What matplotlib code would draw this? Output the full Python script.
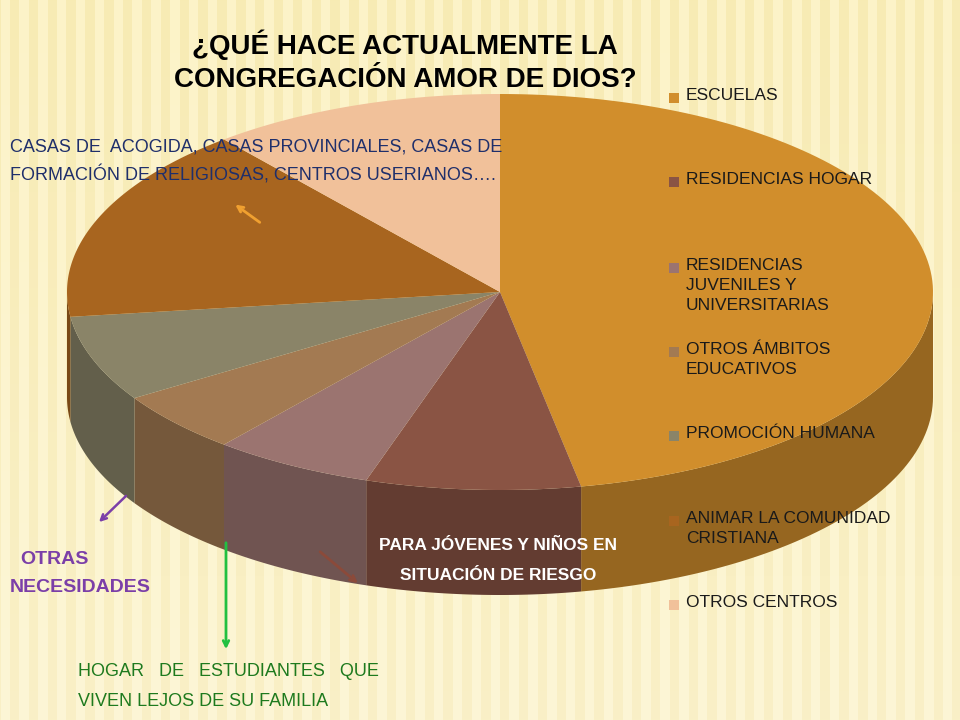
import numpy as np
import matplotlib.pyplot as plt
from matplotlib.patches import Polygon, Rectangle
from matplotlib.colors import to_rgb

plt.rcParams["font.family"] = "Liberation Sans"

categories = ["ESCUELAS", "RESIDENCIAS HOGAR", "RESIDENCIAS\nJUVENILES Y\nUNIVERSITARIAS",
              "OTROS ÁMBITOS\nEDUCATIVOS", "PROMOCIÓN HUMANA", "ANIMAR LA COMUNIDAD\nCRISTIANA",
              "OTROS CENTROS"]
values = [47, 8, 6, 5, 7, 16, 11]
colors = ["#D18E2C", "#8A5444", "#9B7470", "#A37A52", "#8A8468", "#A8651F", "#F1C19A"]

fig = plt.figure(figsize=(9.6, 7.2), dpi=100)
ax = fig.add_axes([0, 0, 1, 1])
ax.set_xlim(0, 960)
ax.set_ylim(720, 0)
ax.axis("off")

# striped background
xs = np.arange(960)
stripe = 0.5 + 0.5 * (np.sin(xs / 3.0) > 0)
base = np.array(to_rgb("#FCF3C8"))
dark = np.array(to_rgb("#F3E3A0"))
row = base[None, :] * stripe[:, None] + dark[None, :] * (1 - stripe[:, None])
yy = np.linspace(0, 1, 720)[:, None, None]
img = row[None, :, :] * (1 - 0.25 * yy) + np.array([1, 1, 1]) * 0.25 * yy
ax.imshow(img, extent=[0, 960, 720, 0], aspect="auto", zorder=0)

cx, cy, rx, ry, depth = 500, 292, 433, 198, 105


def pt(theta, dy=0):
    t = np.radians(theta)
    return cx + rx * np.cos(t), cy - ry * np.sin(t) + dy


fracs = np.array(values) / sum(values)
starts = 90 - 360 * np.concatenate([[0], np.cumsum(fracs)[:-1]])
ends = starts - 360 * fracs

# side walls (bottom half only)
for s, e, c in zip(starts, ends, colors):
    for off in (0, -360):
        a0, a1 = min(s + off, 0), max(e + off, -180)
        if a0 <= a1:
            continue
        th = np.linspace(a0, a1, 60)
        top = [pt(t) for t in th]
        bot = [pt(t, depth) for t in th[::-1]]
        shade = np.array(to_rgb(c)) * 0.72
        ax.add_patch(Polygon(top + bot, closed=True, fc=shade, ec="none", zorder=2))

# top surface
for s, e, c in zip(starts, ends, colors):
    th = np.linspace(s, e, 120)
    ax.add_patch(Polygon([(cx, cy)] + [pt(t) for t in th], closed=True,
                         fc=c, ec="none", zorder=3))

# title
ax.text(405, 45, "¿QUÉ HACE ACTUALMENTE LA", ha="center", va="center",
        fontsize=20, fontweight="bold", color="black", zorder=5)
ax.text(405, 80, "CONGREGACIÓN AMOR DE DIOS?", ha="center", va="center",
        fontsize=20, fontweight="bold", color="black", zorder=5)

# legend
leg_y = [98, 182, 268, 352, 436, 521, 605]
for lab, c, y in zip(categories, colors, leg_y):
    ax.add_patch(Rectangle((669, y - 5), 10, 10, fc=c, ec="none", zorder=5))
    ax.text(686, y - 10, lab, ha="left", va="top", fontsize=12.5, color="#1a1a1a",
            linespacing=1.4, zorder=5)

# annotations
navy = "#1F2F6B"
ax.text(10, 147, "CASAS DE  ACOGIDA, CASAS PROVINCIALES, CASAS DE", fontsize=13,
        color=navy, va="center", zorder=6)
ax.text(10, 175, "FORMACIÓN DE RELIGIOSAS, CENTROS USERIANOS….", fontsize=13,
        color=navy, va="center", zorder=6)
ax.annotate("", xy=(233, 203), xytext=(262, 224),
            arrowprops=dict(arrowstyle="->", color="#F0A030", lw=2), zorder=6)

ax.text(498, 546, "PARA JÓVENES Y NIÑOS EN", ha="center", va="center",
        fontsize=12.5, fontweight="bold", color="white", zorder=6)
ax.text(498, 576, "SITUACIÓN DE RIESGO", ha="center", va="center",
        fontsize=12.5, fontweight="bold", color="white", zorder=6)
ax.annotate("", xy=(360, 585), xytext=(318, 550),
            arrowprops=dict(arrowstyle="->", color="#8B4A3A", lw=2), zorder=6)

purple = "#7B3FA8"
ax.text(20, 560, "OTRAS", fontsize=14, fontweight="bold", color=purple, va="center", zorder=6)
ax.text(10, 588, "NECESIDADES", fontsize=14, fontweight="bold", color=purple, va="center", zorder=6)
ax.annotate("", xy=(97, 524), xytext=(128, 494),
            arrowprops=dict(arrowstyle="->", color=purple, lw=1.8), zorder=6)

green = "#1E7A1E"
ax.annotate("", xy=(226, 652), xytext=(226, 540),
            arrowprops=dict(arrowstyle="->", color="#22C040", lw=2), zorder=6)
ax.text(78, 672, "HOGAR   DE   ESTUDIANTES   QUE", fontsize=13, color=green, va="center", zorder=6)
ax.text(78, 701, "VIVEN LEJOS DE SU FAMILIA", fontsize=13, color=green, va="center", zorder=6)

fig.savefig("out.png", dpi=100)
